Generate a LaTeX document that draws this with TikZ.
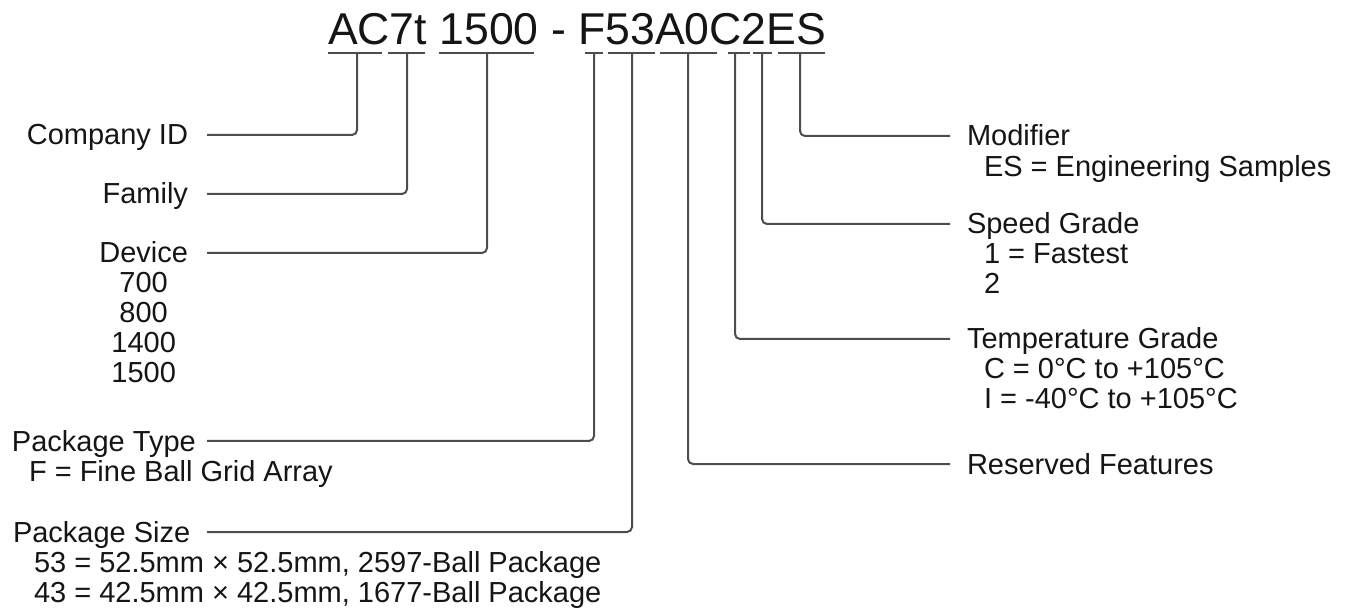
\documentclass[tikz,border=0pt]{standalone}
\usepackage{fontspec}
\setmainfont{Liberation Sans}
\definecolor{linegray}{HTML}{4D4D4D}
\definecolor{textblack}{HTML}{151515}
\begin{document}
\begin{tikzpicture}[x=1pt,y=-1pt,
  conn/.style={draw=linegray, line width=2pt, rounded corners=5pt},
  uline/.style={draw=linegray, line width=2pt},
  lab/.style={inner sep=0pt, outer sep=0pt, text=textblack, font=\fontsize{29}{30}\selectfont},
  ttl/.style={inner sep=0pt, outer sep=0pt, text=textblack, font=\fontsize{44.6}{54}\selectfont}]
\useasboundingbox (0,0) rectangle (1355,609);

% title
\node[ttl, anchor=base west] (title) at (328,45) {AC7t 1500 - F53A0C2ES};

% underlines
\draw[uline] (328,53) -- (382,53);
\draw[uline] (388,53) -- (425,53);
\draw[uline] (439,53) -- (534,53);
\draw[uline] (585,53) -- (603,53);
\draw[uline] (608,53) -- (655,53);
\draw[uline] (660,53) -- (717,53);
\draw[uline] (728,53) -- (750,53);
\draw[uline] (753,53) -- (772,53);
\draw[uline] (778,53) -- (825,53);

% tick points
\coordinate (tCo) at (357,53);
\coordinate (tFa) at (407,53);
\coordinate (tDe) at (487,53);
\coordinate (tPt) at (594,53);
\coordinate (tPs) at (632,53);
\coordinate (tRe) at (688,53);
\coordinate (tTe) at (735,53);
\coordinate (tSp) at (762,53);
\coordinate (tMo) at (800,53);

% connector ends
\coordinate (eCo) at (207,135);
\coordinate (eFa) at (207,194);
\coordinate (eDe) at (207,253);
\coordinate (ePt) at (207,441);
\coordinate (ePs) at (207,532);
\coordinate (eMo) at (950,136);
\coordinate (eSp) at (950,224);
\coordinate (eTe) at (950,339);
\coordinate (eRe) at (950,464);

% left labels
\node[lab, anchor=base east] (company) at (188,145) {Company ID};
\node[lab, anchor=base east] (family) at (188,204) {Family};
\node[lab, anchor=base east] (device) at (188,263)
  {\begin{tabular}[t]{@{}c@{}}Device\\700\\800\\1400\\1500\end{tabular}};
\node[lab, anchor=base west] (ptype) at (12,451)
  {\begin{tabular}[t]{@{}l@{}}Package Type\\\hspace*{17pt}F = Fine Ball Grid Array\end{tabular}};
\node[lab, anchor=base west] (psize) at (13,542)
  {\begin{tabular}[t]{@{}l@{}}Package Size\\\hspace*{21pt}53 = 52.5mm × 52.5mm, 2597-Ball Package\\\hspace*{21pt}43 = 42.5mm × 42.5mm, 1677-Ball Package\end{tabular}};

% right labels
\node[lab, anchor=base west] (modifier) at (967,146)
  {\begin{tabular}[t]{@{}l@{}}Modifier\\\hspace*{17pt}ES = Engineering Samples\end{tabular}};
\node[lab, anchor=base west] (speed) at (967,234)
  {\begin{tabular}[t]{@{}l@{}}Speed Grade\\\hspace*{17pt}1 = Fastest\\\hspace*{17pt}2\end{tabular}};
\node[lab, anchor=base west] (temp) at (967,349)
  {\begin{tabular}[t]{@{}l@{}}Temperature Grade\\\hspace*{17pt}C = 0°C to +105°C\\\hspace*{17pt}I = -40°C to +105°C\end{tabular}};
\node[lab, anchor=base west] (reserved) at (967,474) {Reserved Features};

% connectors
\draw[conn] (tCo) |- (eCo);
\draw[conn] (tFa) |- (eFa);
\draw[conn] (tDe) |- (eDe);
\draw[conn] (tPt) |- (ePt);
\draw[conn] (tPs) |- (ePs);
\draw[conn] (tMo) |- (eMo);
\draw[conn] (tSp) |- (eSp);
\draw[conn] (tTe) |- (eTe);
\draw[conn] (tRe) |- (eRe);
\end{tikzpicture}
\end{document}
